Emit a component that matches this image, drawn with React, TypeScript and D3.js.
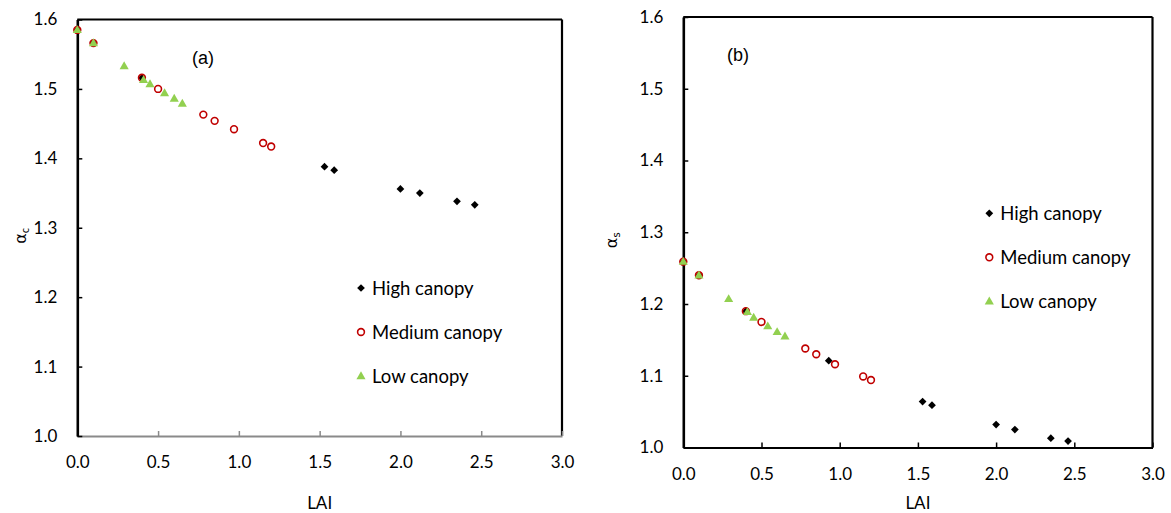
import { useEffect, useRef } from "react";
import {
  axisBottom,
  axisLeft,
  format,
  ScaleLinear,
  scaleLinear,
  select,
  symbol,
  symbolSquare,
  symbolTriangle
} from "d3";

// shared LAI values for each canopy class
const laiHigh = [0, 0.1, 0.4, 0.93, 1.53, 1.59, 2.0, 2.12, 2.35, 2.46];
const laiMedium = [0, 0.1, 0.4, 0.5, 0.78, 0.85, 0.97, 1.15, 1.2];
const laiLow = [0, 0.1, 0.29, 0.41, 0.45, 0.54, 0.6, 0.65];

// panel (a): alpha_c
const alphaCHigh = [1.585, 1.566, 1.516, null, 1.388, 1.383, 1.356, 1.35, 1.338, 1.333];
const alphaCMedium = [1.585, 1.566, 1.516, 1.5, 1.463, 1.454, 1.442, 1.422, 1.417];
const alphaCLow = [1.585, 1.566, 1.533, 1.513, 1.507, 1.494, 1.486, 1.479];

// panel (b): alpha_s
const alphaSHigh = [1.259, 1.24, 1.19, 1.121, 1.064, 1.059, 1.032, 1.025, 1.013, 1.009];
const alphaSMedium = [1.259, 1.24, 1.19, 1.175, 1.138, 1.13, 1.116, 1.099, 1.094];
const alphaSLow = [1.259, 1.24, 1.207, 1.189, 1.181, 1.169, 1.161, 1.155];

const seriesNames = ["High canopy", "Medium canopy", "Low canopy"];
const xTicks = [0, 0.5, 1, 1.5, 2, 2.5, 3];
const yTicks = [1.0, 1.1, 1.2, 1.3, 1.4, 1.5, 1.6];

const FONT = "Lato, 'DejaVu Sans', sans-serif";
const GREEN = "#92D050";
const RED = "#C00000";

const diamondPath = symbol(symbolSquare, 30)() as string;
const trianglePath = symbol(symbolTriangle, 36)() as string;

type Pt = { x: number; y: number | null };

function zip(xs: number[], ys: (number | null)[]): Pt[] {
  return xs.map((x, i) => ({ x, y: ys[i] }));
}

function Marker({ kind, x, y }: { kind: number; x: number; y: number }) {
  if (kind === 0)
    return <path d={diamondPath} transform={`translate(${x},${y}) rotate(45)`} fill="#000" />;
  if (kind === 1)
    return <circle cx={x} cy={y} r={3.4} fill="none" stroke={RED} strokeWidth={1.6} />;
  return <path d={trianglePath} transform={`translate(${x},${y + 0.5})`} fill={GREEN} />;
}

interface AxisProps {
  scale: ScaleLinear<number, number>;
  transform: string;
  color: string;
}

function AxisB({ scale, transform, color }: AxisProps) {
  const ref = useRef<SVGGElement>(null);
  useEffect(() => {
    if (!ref.current) return;
    const g = select(ref.current);
    g.call(
      axisBottom(scale).tickValues(xTicks).tickFormat(format(".1f")).tickSize(-5).tickSizeOuter(0).tickPadding(20)
    );
    g.select(".domain").attr("stroke", color).attr("stroke-width", 2.2);
    g.selectAll(".tick line").attr("stroke", color).attr("stroke-width", 1.5);
    g.selectAll(".tick text")
      .attr("fill", "#000")
      .style("font-family", FONT)
      .style("font-size", "17px");
  }, [scale, color]);
  return <g ref={ref} transform={transform} />;
}

function AxisL({ scale, transform }: AxisProps) {
  const ref = useRef<SVGGElement>(null);
  useEffect(() => {
    if (!ref.current) return;
    const g = select(ref.current);
    g.call(axisLeft(scale).tickValues(yTicks).tickFormat(format(".1f")).tickSize(-5).tickSizeOuter(0).tickPadding(20));
    g.select(".domain").attr("stroke", "#000").attr("stroke-width", 2.6);
    g.selectAll(".tick line").attr("stroke", "#000").attr("stroke-width", 1.5);
    g.selectAll(".tick text")
      .attr("fill", "#000")
      .style("font-family", FONT)
      .style("font-size", "17px");
  }, [scale]);
  return <g ref={ref} transform={transform} />;
}

interface PanelProps {
  x0: number;
  x1: number;
  yTop: number;
  yBot: number;
  high: (number | null)[];
  medium: (number | null)[];
  low: (number | null)[];
  bottomColor: string;
  tag: string;
  tagX: number;
  sub: string;
  labelX: number;
  legendX: number;
  legendY: number;
}

function Panel(p: PanelProps) {
  const sx = scaleLinear().domain([0, 3]).range([p.x0, p.x1]);
  const sy = scaleLinear().domain([1.0, 1.6]).range([p.yBot, p.yTop]);
  const groups = [zip(laiHigh, p.high), zip(laiMedium, p.medium), zip(laiLow, p.low)];
  const midY = (p.yTop + p.yBot) / 2 + 8;
  return (
    <g>
      {/* frame: top and right edges */}
      <line x1={p.x0} x2={p.x1} y1={p.yTop} y2={p.yTop} stroke="#000" strokeWidth={2.2} />
      <line x1={p.x1} x2={p.x1} y1={p.yTop} y2={p.yBot} stroke="#000" strokeWidth={2.2} />
      <AxisB scale={sx} transform={`translate(0,${p.yBot})`} color={p.bottomColor} />
      <AxisL scale={sy} transform={`translate(${p.x0},0)`} color="#000" />
      {groups.map((pts, k) =>
        pts
          .filter((d) => d.y !== null)
          .map((d, i) => <Marker key={`m-${k}-${i}`} kind={k} x={sx(d.x)} y={sy(d.y as number)} />)
      )}
      <text x={p.tagX} y={p.yTop + 44} fontFamily="'Liberation Sans', Arial, sans-serif" fontSize={18}>
        {p.tag}
      </text>
      <text x={(p.x0 + p.x1) / 2} y={509} textAnchor="middle" fontFamily={FONT} fontSize={17}>
        LAI
      </text>
      <text
        transform={`translate(${p.labelX},${midY}) rotate(-90)`}
        textAnchor="middle"
        fontFamily="'DejaVu Sans', sans-serif"
        fontSize={16}
      >
        α
        <tspan fontSize={10} dy={3}>
          {p.sub}
        </tspan>
      </text>
      {seriesNames.map((name, k) => (
        <g key={name} transform={`translate(${p.legendX},${p.legendY + k * 44})`}>
          <Marker kind={k} x={0} y={0} />
          <text x={11} y={7} fontFamily={FONT} fontSize={18.5}>
            {name}
          </text>
        </g>
      ))}
    </g>
  );
}

export default function App() {
  return (
    <svg width={1171} height={513} style={{ position: "absolute", left: 0, top: 0, background: "#fff" }}>
      <Panel
        x0={77.3}
        x1={562}
        yTop={19.5}
        yBot={436}
        high={alphaCHigh}
        medium={alphaCMedium}
        low={alphaCLow}
        bottomColor="#8a8a8a"
        tag="(a)"
        tagX={192}
        sub="c"
        labelX={26}
        legendX={361}
        legendY={288}
      />
      <Panel
        x0={683.3}
        x1={1152.5}
        yTop={17}
        yBot={447.5}
        high={alphaSHigh}
        medium={alphaSMedium}
        low={alphaSLow}
        bottomColor="#000"
        tag="(b)"
        tagX={727}
        sub="s"
        labelX={617}
        legendX={989.3}
        legendY={213.3}
      />
    </svg>
  );
}
